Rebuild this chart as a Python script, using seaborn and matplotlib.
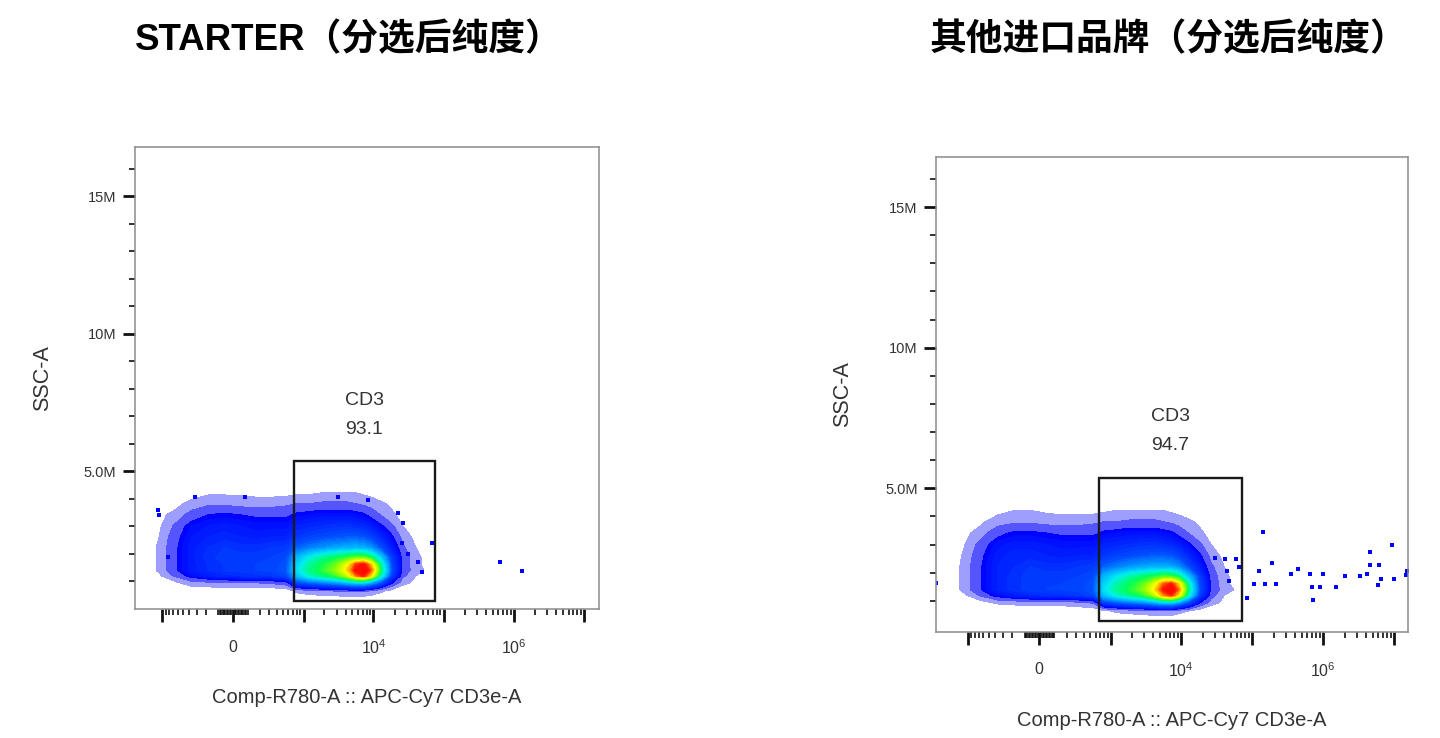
import numpy as np
import matplotlib
matplotlib.use("Agg")
import matplotlib.pyplot as plt
import seaborn as sns
from matplotlib.colors import LinearSegmentedColormap
from matplotlib.patches import Rectangle
from matplotlib.ticker import FixedLocator, FixedFormatter

# ---- text ----
titles = ["STARTER（分选后纯度）", "其他进口品牌（分选后纯度）"]
gate_name = "CD3"
gate_pct = ["93.1", "94.7"]
x_label = "Comp-R780-A :: APC-Cy7 CD3e-A"
y_label = "SSC-A"

# ---- density grid (relative event density 0-10) ----
# x: CD3 (APC-Cy7) bin centres, y: SSC-A bin centres in millions
cd3_bins = [-1850, -1100, -630, -360, -180, -60, 45, 165, 330, 560, 800, 1200,
            1900, 2900, 4200, 5600, 7200, 9200, 12500, 18000, 26000, 40000, 68000, 115000]
ssc_bins = [0.3, 0.65, 0.95, 1.2, 1.4, 1.6, 1.85, 2.2, 2.6, 3.0, 3.4, 3.8, 4.2, 4.6]

# rows follow ssc_bins (bottom to top)
density_starter = [
    [0] * 24,
    [0, 0, 0, 0.1, 0.1, 0.1, 0.1, 0.1, 0.1, 0.2, 0.6, 0.8, 0.9, 1.0, 1.1, 1.1, 1.1, 0.9, 0.6, 0.3, 0, 0, 0, 0],
    [0, 0, 0.4, 0.8, 0.9, 1.0, 1.0, 1.0, 1.1, 1.3, 2.8, 3.2, 3.5, 3.8, 4.2, 4.6, 4.6, 4.0, 3.0, 1.6, 0.7, 0.3, 0, 0],
    [0, 0.4, 1.1, 1.7, 2.0, 2.2, 2.3, 2.4, 2.5, 2.8, 4.3, 5.2, 5.8, 6.3, 7.4, 8.8, 9.4, 8.2, 5.4, 2.6, 1.1, 0.5, 0, 0],
    [0, 0.6, 1.4, 2.0, 2.3, 2.5, 2.6, 2.7, 2.8, 3.1, 4.8, 5.7, 6.3, 7.0, 8.2, 9.6, 10.0, 9.0, 6.0, 2.9, 1.3, 0.7, 0.2, 0],
    [0, 0.6, 1.4, 2.0, 2.3, 2.5, 2.6, 2.7, 2.8, 3.0, 4.6, 5.5, 6.1, 6.7, 7.8, 9.2, 9.6, 8.4, 5.6, 2.8, 1.3, 0.6, 0.2, 0],
    [0, 0.6, 1.4, 2.0, 2.4, 2.6, 2.6, 2.6, 2.7, 2.9, 4.2, 5.0, 5.6, 6.0, 6.3, 6.6, 6.6, 6.0, 4.6, 2.6, 1.3, 0.6, 0.2, 0],
    [0, 0.6, 1.4, 2.0, 2.3, 2.5, 2.4, 2.4, 2.5, 2.6, 3.2, 3.5, 3.8, 4.0, 4.1, 4.2, 4.1, 3.8, 3.0, 2.0, 1.1, 0.5, 0, 0],
    [0, 0.5, 1.3, 1.9, 2.1, 2.2, 2.1, 2.0, 2.1, 2.1, 2.5, 2.7, 2.9, 3.0, 3.1, 3.1, 3.0, 2.7, 2.2, 1.6, 0.8, 0.3, 0, 0],
    [0, 0.4, 1.1, 1.7, 1.9, 2.0, 1.9, 1.8, 1.8, 1.8, 2.1, 2.2, 2.3, 2.4, 2.4, 2.3, 2.2, 2.0, 1.6, 1.1, 0.5, 0.2, 0, 0],
    [0, 0.3, 0.7, 1.2, 1.5, 1.6, 1.5, 1.4, 1.4, 1.4, 1.6, 1.7, 1.8, 1.8, 1.8, 1.7, 1.6, 1.3, 1.0, 0.6, 0.3, 0, 0, 0],
    [0, 0, 0.3, 0.7, 0.9, 0.9, 0.8, 0.8, 0.8, 0.9, 1.0, 1.0, 1.1, 1.1, 1.1, 1.0, 0.9, 0.8, 0.6, 0.4, 0.2, 0, 0, 0],
    [0, 0, 0, 0.2, 0.4, 0.4, 0.4, 0.3, 0.3, 0.3, 0.4, 0.4, 0.5, 0.5, 0.5, 0.5, 0.4, 0.3, 0.2, 0, 0, 0, 0, 0],
    [0] * 24,
]

density_other = [
    [0] * 24,
    [0, 0, 0, 0, 0, 0, 0, 0, 0.1, 0.1, 0.4, 0.6, 0.7, 0.8, 0.9, 0.9, 0.9, 0.7, 0.5, 0.2, 0, 0, 0, 0],
    [0, 0.1, 0.3, 0.6, 0.7, 0.8, 0.8, 0.8, 0.9, 1.1, 2.7, 3.1, 3.4, 3.7, 4.1, 4.5, 4.5, 3.9, 2.9, 1.6, 0.8, 0.3, 0, 0],
    [0, 0.4, 1.1, 1.7, 2.0, 2.2, 2.3, 2.4, 2.5, 2.8, 4.3, 5.1, 5.7, 6.2, 7.3, 8.7, 9.3, 8.0, 5.2, 2.6, 1.2, 0.5, 0.1, 0],
    [0, 0.7, 1.5, 2.1, 2.4, 2.6, 2.7, 2.7, 2.8, 3.1, 4.8, 5.6, 6.2, 6.9, 8.1, 9.5, 10.0, 8.8, 5.7, 2.9, 1.4, 0.7, 0.3, 0],
    [0, 0.7, 1.5, 2.1, 2.4, 2.6, 2.6, 2.7, 2.8, 3.0, 4.6, 5.4, 6.0, 6.6, 7.7, 9.0, 9.4, 8.2, 5.4, 2.8, 1.4, 0.6, 0.2, 0],
    [0, 0.7, 1.5, 2.1, 2.4, 2.6, 2.6, 2.6, 2.7, 2.9, 4.2, 4.9, 5.5, 5.9, 6.2, 6.5, 6.4, 5.8, 4.4, 2.6, 1.3, 0.6, 0.2, 0],
    [0, 0.7, 1.5, 2.1, 2.3, 2.5, 2.4, 2.4, 2.5, 2.6, 3.2, 3.5, 3.8, 4.0, 4.1, 4.1, 4.0, 3.7, 2.9, 2.0, 1.1, 0.5, 0.1, 0],
    [0, 0.6, 1.4, 2.0, 2.2, 2.2, 2.1, 2.0, 2.1, 2.1, 2.5, 2.7, 2.9, 3.0, 3.1, 3.1, 3.0, 2.7, 2.2, 1.6, 0.8, 0.3, 0, 0],
    [0, 0.5, 1.2, 1.8, 2.0, 2.0, 1.9, 1.8, 1.8, 1.8, 2.1, 2.2, 2.3, 2.4, 2.4, 2.3, 2.2, 2.0, 1.6, 1.1, 0.5, 0.2, 0, 0],
    [0, 0.3, 0.8, 1.3, 1.6, 1.6, 1.5, 1.4, 1.4, 1.4, 1.6, 1.7, 1.8, 1.8, 1.8, 1.7, 1.6, 1.3, 1.0, 0.6, 0.3, 0, 0, 0],
    [0, 0.1, 0.4, 0.8, 0.9, 0.9, 0.8, 0.8, 0.8, 0.9, 1.0, 1.0, 1.1, 1.1, 1.1, 1.0, 0.9, 0.8, 0.6, 0.4, 0.2, 0, 0, 0],
    [0, 0, 0.1, 0.3, 0.5, 0.5, 0.4, 0.3, 0.3, 0.3, 0.4, 0.5, 0.5, 0.5, 0.5, 0.5, 0.4, 0.3, 0.2, 0, 0, 0, 0, 0],
    [0] * 24,
]

# isolated events outside the main cloud
starter_dots_x = [68000, 640000, 1320000, 25200, 31400, 43500, 48600, 22600, 26600,
                  -1150, -1120, -820, -320, 81, 3160, 8440]
starter_dots_y = [2.38, 1.70, 1.37, 2.37, 2.0, 1.70, 1.34, 3.46, 3.1,
                  3.58, 3.4, 1.88, 4.07, 4.07, 4.07, 3.95]
other_dots_x = [143000, 188000, 124000, 107000, 151000, 216000, 352000, 446000, 652000,
                1.0e6, 689000, 902000, 726000, 1.5e6, 2.03e6, 3.3e6, 4.2e6, 4.57e6, 4.57e6,
                6.2e6, 9.4e6, 6.0e6, 6.5e6, 1.0e7, 1.5e7, 83400, 1.45e7, -2880,
                29800, 41200, 59000, 43600, 47400, 65800]
other_dots_y = [3.43, 2.35, 2.07, 1.59, 1.59, 1.59, 1.95, 2.13, 1.95,
                1.95, 1.50, 1.50, 1.03, 1.50, 1.88, 1.88, 1.95, 2.73, 2.28,
                2.28, 3.0, 1.56, 1.76, 1.76, 2.07, 1.09, 1.92, 1.65,
                2.51, 2.47, 2.47, 2.07, 1.71, 2.19]

# CD3 gate (x in fluorescence units, y in millions)
gate_x = [(725, 75100), (684, 70900)]
gate_y = (0.27, 5.37)

# axis ranges
x_ranges = [(-2516, 1.628e7), (-2904, 1.586e7)]
y_ranges = [(-0.03, 16.8), (-0.12, 16.79)]

x_major = [-1000, 0, 1000, 1e4, 1e5, 1e6, 1e7]
x_major_labels = ["", r"$\mathregular{0}$", "", r"$\mathregular{10^{4}}$", "",
                  r"$\mathregular{10^{6}}$", ""]
y_major = [5, 10, 15]
y_major_labels = ["5.0M", "10M", "15M"]

# ---- style ----
sns.set_theme(style="white")
plt.rcParams["font.family"] = ["Liberation Sans", "Noto Sans CJK SC", "DejaVu Sans"]
plt.rcParams["axes.unicode_minus"] = False

LIN_W = 200  # asinh linear width, mimics the biexponential display

# pseudocolour map: blue -> cyan -> green -> yellow -> red
anchors = [(1.5, "#0000ff"), (3.0, "#0050ff"), (4.0, "#00a8ff"), (5.0, "#00eef0"),
           (6.0, "#00ff5a"), (7.0, "#90ff00"), (8.0, "#ffff00"), (8.8, "#ff9000"),
           (9.5, "#ff1000"), (10.5, "#ff0000")]
pcmap = LinearSegmentedColormap.from_list(
    "flow", [((v - 1.5) / 9.0, c) for v, c in anchors])
levels = [0.5, 1.0, 1.5] + list(np.arange(1.7, 10.51, 0.2))
# sparse fringe as pale blue tones (dots on white seen from afar)
band_colors = ["#9e9eff", "#5555ff"]
for lo, hi in zip(levels[2:-1], levels[3:]):
    band_colors.append(pcmap(((lo + hi) / 2 - 1.5) / 9.0))

minor_x = []
for d in (1, 2):
    for k in range(1, 10):
        minor_x += [k * 10 ** d, -k * 10 ** d]
for d in range(3, 7):
    for k in range(2, 10):
        minor_x.append(k * 10 ** d)
minor_y = [v for v in range(1, 17) if v not in y_major]

fig = plt.figure(figsize=(14.4, 7.38), dpi=100)
axes_rects = [[134.6 / 1440, 1 - 609.4 / 738, 464.4 / 1440, 462.8 / 738],
              [935.7 / 1440, 1 - 632.3 / 738, 472.6 / 1440, 475.5 / 738]]
title_x = [348.5 / 1440, 1168.7 / 1440]
densities = [density_starter, density_other]
dots = [(starter_dots_x, starter_dots_y), (other_dots_x, other_dots_y)]
ylabel_x = [43, 843]

X, Y = np.meshgrid(cd3_bins, ssc_bins)

for i in range(2):
    ax = fig.add_axes(axes_rects[i])
    ax.set_xscale("asinh", linear_width=LIN_W)

    cs = ax.contourf(X, Y, np.array(densities[i]), levels=levels, colors=band_colors)
    cs.set_edgecolor("face")
    cs.set_linewidth(0.5)

    sns.scatterplot(x=dots[i][0], y=dots[i][1], ax=ax, color="#0000ff", marker="s",
                    s=5, linewidth=0, legend=False)

    gx0, gx1 = gate_x[i]
    ax.add_patch(Rectangle((gx0, gate_y[0]), gx1 - gx0, gate_y[1] - gate_y[0],
                           fill=False, edgecolor="#1a1a1a", linewidth=1.7, zorder=5))
    mid = LIN_W * np.sinh((np.arcsinh(gx0 / LIN_W) + np.arcsinh(gx1 / LIN_W)) / 2)
    ax.text(mid, gate_y[1] + 2.19, gate_name, ha="center", va="center",
            fontsize=14, color="#333333")
    ax.text(mid, gate_y[1] + 1.14, gate_pct[i], ha="center", va="center",
            fontsize=14, color="#333333")

    ax.set_xlim(*x_ranges[i])
    ax.set_ylim(*y_ranges[i])

    ax.xaxis.set_major_locator(FixedLocator(x_major))
    ax.xaxis.set_major_formatter(FixedFormatter(x_major_labels))
    ax.xaxis.set_minor_locator(FixedLocator(minor_x))
    ax.yaxis.set_major_locator(FixedLocator(y_major))
    ax.yaxis.set_major_formatter(FixedFormatter(y_major_labels))
    ax.yaxis.set_minor_locator(FixedLocator(minor_y))

    ax.tick_params(which="major", direction="out", length=9, width=2, color="#111111",
                   labelcolor="#333333")
    ax.tick_params(axis="x", which="major", pad=12, labelsize=11.5)
    ax.tick_params(axis="y", which="major", pad=4, labelsize=10.5)
    ax.tick_params(which="minor", direction="out", length=4, width=1.2, color="#111111")
    ax.tick_params(top=False, right=False, which="both")
    ax.tick_params(axis="both", which="both", bottom=True, left=True)

    for sp in ax.spines.values():
        sp.set_visible(True)
        sp.set_color("#8c8c8c")
        sp.set_linewidth(1.1)

    ax.set_xlabel(x_label, fontsize=14.5, color="#333333")
    ax.xaxis.set_label_coords(0.5, -0.19 if i == 0 else -0.185)
    ax.xaxis.label.set_va("center")
    ax.set_ylabel("")
    fig.text(ylabel_x[i] / 1440, (axes_rects[i][1] + axes_rects[i][3] / 2),
             y_label, rotation=90, ha="center", va="center", fontsize=15.5,
             color="#333333")

    fig.text(title_x[i], 1 - 40 / 738, titles[i], ha="center", va="center",
             fontsize=26.5, fontweight="bold", color="black",
             family=["Liberation Sans", "Noto Sans CJK SC", "DejaVu Sans"])

fig.savefig("out.png", dpi=100)
